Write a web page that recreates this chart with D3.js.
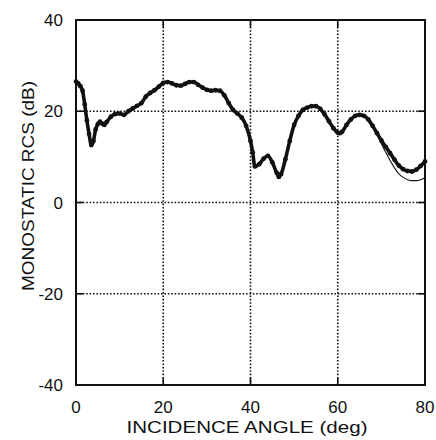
<!DOCTYPE html>
<html>
<head>
<meta charset="utf-8">
<script src="https://cdn.jsdelivr.net/npm/d3@7"></script>
<style>
  body { margin: 0; background: #fff; }
  text { font-family: "Liberation Sans", Arial, sans-serif; fill: #111; }
</style>
</head>
<body>
<div id="chart"></div>
<script>
// incidence angles (deg)
var angles = [0, 0.5, 1, 1.5, 2, 2.5, 3, 3.5, 4, 4.5, 5, 5.5, 6, 6.5, 7, 8, 9, 10,
  11, 12, 13, 14, 15, 16, 17, 18, 19, 20, 21, 22, 23, 24, 25, 26, 27, 28, 29, 30,
  31, 32, 33, 34, 35, 36, 37, 38, 39, 40, 40.5, 41, 42, 43, 44, 45, 46, 46.5, 47,
  48, 49, 50, 51, 52, 53, 54, 55, 56, 57, 58, 59, 60, 60.5, 61, 62, 63, 64, 65,
  66, 67, 68, 69, 70, 71, 72, 73, 74, 75, 76, 77, 78, 79, 80];

// measured RCS (dB), thick dotted trace
var measured = [26.5, 26.1, 25.5, 24.5, 21.5, 18.0, 15.0, 12.6, 13.5, 16.0, 17.2, 17.7, 17.3, 17.0, 17.6, 18.8, 19.4, 19.5,
  19.2, 20.0, 20.6, 21.2, 21.8, 23.2, 24.0, 24.6, 25.4, 26.2, 26.4, 26.1, 25.7, 25.6, 26.0, 26.4, 26.4, 25.8, 25.2, 24.7,
  24.5, 24.6, 24.5, 23.5, 21.8, 20.3, 19.5, 18.6, 16.8, 13.5, 11.0, 7.9, 8.4, 9.6, 10.2, 8.8, 6.5, 5.6, 6.2,
  9.5, 13.5, 17.0, 19.0, 20.3, 20.8, 21.1, 21.1, 20.5, 19.3, 17.8, 16.3, 15.3, 15.2, 15.5, 17.0, 18.2, 19.0, 19.2,
  19.0, 18.2, 16.8, 15.2, 13.6, 12.2, 10.8, 9.4, 8.1, 7.3, 6.9, 6.8, 7.2, 8.0, 9.0];

// computed RCS (dB), thin line
var computed = [26.5, 26.1, 25.5, 24.3, 21.0, 17.5, 14.5, 12.4, 13.2, 15.8, 17.1, 17.7, 17.3, 17.0, 17.6, 18.8, 19.4, 19.5,
  19.2, 20.0, 20.6, 21.2, 21.8, 23.2, 24.0, 24.6, 25.4, 26.2, 26.4, 26.1, 25.7, 25.6, 26.0, 26.4, 26.4, 25.8, 25.2, 24.7,
  24.5, 24.6, 24.5, 23.5, 21.8, 20.3, 19.5, 18.6, 16.8, 13.5, 11.0, 7.9, 8.4, 9.6, 10.2, 8.8, 6.5, 5.6, 6.2,
  9.5, 13.5, 17.0, 19.0, 20.3, 20.8, 21.1, 21.1, 20.5, 19.3, 17.8, 16.3, 15.3, 15.2, 15.5, 17.0, 18.2, 19.0, 19.2,
  19.0, 18.2, 16.8, 15.0, 12.9, 11.0, 9.2, 7.6, 6.3, 5.5, 5.0, 4.8, 4.8, 5.0, 5.4];

var xTicks = [0, 20, 40, 60, 80];
var yTicks = [-40, -20, 0, 20, 40];

var width = 436, height = 440;
var margin = {top: 20, right: 11, bottom: 55, left: 76};

var svg = d3.select("#chart").append("svg")
    .attr("width", width)
    .attr("height", height);

var x = d3.scaleLinear().domain([0, 80]).range([margin.left, width - margin.right]);
var y = d3.scaleLinear().domain([-40, 40]).range([height - margin.bottom, margin.top]);

// dotted grid
svg.selectAll(".vgrid")
  .data(xTicks.slice(1, -1))
  .enter().append("line")
    .attr("x1", d => x(d)).attr("x2", d => x(d))
    .attr("y1", y(40)).attr("y2", y(-40))
    .attr("stroke", "#111").attr("stroke-width", 1.6)
    .attr("stroke-dasharray", "1.6,1.8");
svg.selectAll(".hgrid")
  .data(yTicks.slice(1, -1))
  .enter().append("line")
    .attr("x1", x(0)).attr("x2", x(80))
    .attr("y1", d => y(d)).attr("y2", d => y(d))
    .attr("stroke", "#111").attr("stroke-width", 1.6)
    .attr("stroke-dasharray", "1.6,1.8");

// inner ticks on all four sides
var tl = 7;
yTicks.slice(1, -1).forEach(function(d) {
  svg.append("line").attr("x1", x(0)).attr("x2", x(0) + tl).attr("y1", y(d)).attr("y2", y(d))
    .attr("stroke", "#111").attr("stroke-width", 1.6);
  svg.append("line").attr("x1", x(80)).attr("x2", x(80) - tl).attr("y1", y(d)).attr("y2", y(d))
    .attr("stroke", "#111").attr("stroke-width", 1.6);
});
xTicks.slice(1, -1).forEach(function(d) {
  svg.append("line").attr("x1", x(d)).attr("x2", x(d)).attr("y1", y(-40)).attr("y2", y(-40) - tl)
    .attr("stroke", "#111").attr("stroke-width", 1.6);
  svg.append("line").attr("x1", x(d)).attr("x2", x(d)).attr("y1", y(40)).attr("y2", y(40) + tl)
    .attr("stroke", "#111").attr("stroke-width", 1.6);
});

// frame
svg.append("rect")
  .attr("x", x(0)).attr("y", y(40))
  .attr("width", x(80) - x(0)).attr("height", y(-40) - y(40))
  .attr("fill", "none").attr("stroke", "#111").attr("stroke-width", 2);

var line = d3.line()
  .x(function(d) { return x(d[0]); })
  .y(function(d) { return y(d[1]); })
  .curve(d3.curveMonotoneX);

var compData = angles.map((a, i) => [a, computed[i]]);
var measData = angles.map((a, i) => [a, measured[i]]);

// measured: thick trace with dots
svg.append("path")
  .attr("d", line(measData))
  .attr("fill", "none").attr("stroke", "#111").attr("stroke-width", 3.6);
svg.selectAll(".dot")
  .data(measData)
  .enter().append("circle")
    .attr("cx", d => x(d[0])).attr("cy", d => y(d[1]))
    .attr("r", 2.4).attr("fill", "#111");

// computed: thin line
svg.append("path")
  .attr("d", line(compData))
  .attr("fill", "none").attr("stroke", "#111").attr("stroke-width", 1.1);

// tick labels
svg.selectAll(".xl")
  .data(xTicks)
  .enter().append("text")
    .attr("x", d => x(d)).attr("y", 413)
    .attr("text-anchor", "middle")
    .style("font-size", "17px")
    .text(d => d);
svg.selectAll(".yl")
  .data(yTicks)
  .enter().append("text")
    .attr("x", 63).attr("y", d => y(d) + 6)
    .attr("text-anchor", "end")
    .style("font-size", "17px")
    .text(d => d);

// axis titles
svg.append("text")
  .attr("x", 247).attr("y", 433)
  .attr("text-anchor", "middle")
  .attr("textLength", 241).attr("lengthAdjust", "spacingAndGlyphs")
  .style("font-size", "17px")
  .text("INCIDENCE ANGLE (deg)");
svg.append("text")
  .attr("transform", "translate(34,186) rotate(-90)")
  .attr("text-anchor", "middle")
  .attr("textLength", 210).attr("lengthAdjust", "spacingAndGlyphs")
  .style("font-size", "17px")
  .text("MONOSTATIC RCS (dB)");
</script>
</body>
</html>
